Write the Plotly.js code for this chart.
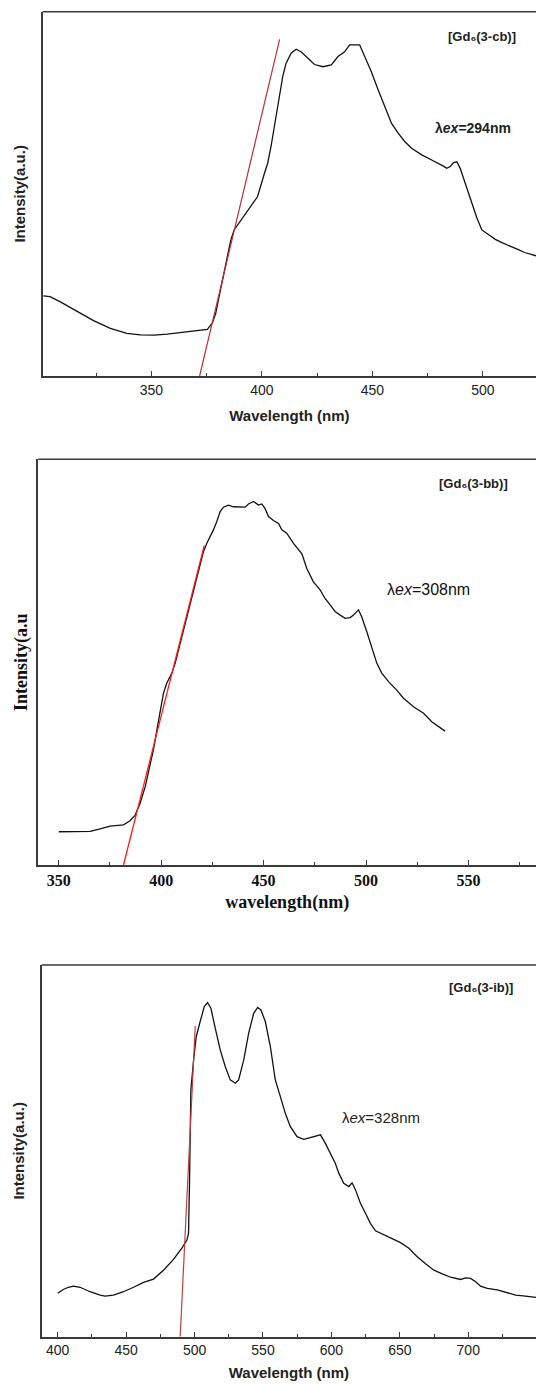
<!DOCTYPE html>
<html>
<head>
<meta charset="utf-8">
<script src="https://cdn.plot.ly/plotly-3.0.1.min.js"></script>
<style>html,body{margin:0;padding:0;background:#fff;}#chart{width:536px;height:1384px;}</style>
</head>
<body>
<div id="chart"></div>
<script>
// ---- Panel 1: [Gd6(3-cb)], λex=294nm ----
const wl1 = [301.1,304.1,308.6,316.2,323.8,331.4,338.9,345.0,351.1,357.1,364.7,372.3,375.3,377.6,379.1,380.6,382.9,385.9,387.4,390.5,395.0,398.0,401.1,402.6,404.1,405.6,407.9,409.4,410.9,413.2,415.5,417.7,420.8,423.8,427.6,431.4,434.4,437.4,439.7,442.0,444.2,446.5,449.5,452.6,455.6,458.6,461.7,464.7,467.7,472.3,476.8,479.8,482.1,483.6,485.2,486.7,488.2,489.7,492.0,495.0,497.3,499.5,502.6,505.6,508.6,511.7,515.5,518.9,524.0];
const int1 = [22.0,21.8,20.4,17.7,15.2,13.1,11.7,11.3,11.2,11.5,12.0,12.4,12.8,14.6,17.2,21.8,28.2,37.3,40.1,42.8,46.5,49.2,55.6,58.4,63.0,68.4,75.8,82.2,85.8,88.6,89.7,89.0,87.2,85.5,84.9,85.4,87.7,89.0,90.9,91.0,90.9,87.7,83.5,78.5,73.9,69.4,66.6,64.3,62.5,60.7,59.3,58.4,57.6,57.0,57.5,58.6,58.8,57.0,52.9,47.4,43.3,40.1,38.7,37.5,36.6,35.7,34.8,33.9,33.0];
const fitX1 = [371.8, 408.0];
const fitY1 = [0, 92.4];

// ---- Panel 2: [Gd6(3-bb)], λex=308nm ----
const wl2 = [350.0,357.2,365.3,370.2,375.1,381.6,384.8,387.3,389.7,392.2,394.6,396.2,397.9,399.5,401.1,402.7,405.2,406.8,409.2,411.7,414.1,416.6,419.0,420.6,422.3,423.9,425.5,427.1,428.8,430.4,432.8,435.3,438.5,441.0,442.6,445.1,447.5,449.1,450.7,452.4,454.8,457.3,458.9,461.3,464.6,467.0,468.7,471.1,474.3,477.6,480.0,482.5,484.9,487.4,489.8,492.3,493.9,496.3,497.9,500.4,502.8,505.3,507.7,511.0,515.0,518.3,523.2,528.1,532.1,535.4,538.6];
const int2 = [8.2,8.2,8.3,8.9,9.6,9.9,10.9,12.3,15.2,19.3,24.7,28.4,33.3,38.2,42.3,44.8,47.3,49.7,54.6,59.6,64.5,69.4,74.4,77.2,79.3,80.9,82.6,84.6,87.1,88.2,88.7,88.3,88.3,88.2,89.0,89.6,88.7,89.0,87.9,85.9,84.9,84.2,82.6,81.8,79.3,77.7,76.7,73.1,69.8,67.8,65.7,64.1,62.5,61.6,60.8,61.0,61.6,62.9,61.2,57.5,53.8,49.7,47.3,45.2,43.1,41.1,39.0,37.4,35.3,34.1,33.0];
const fitX2 = [381.6, 421.0];
const fitY2 = [0, 78.7];

// ---- Panel 3: [Gd6(3-ib)], λex=328nm ----
const wl3 = [400.0,404.1,407.8,411.5,416.3,423.7,431.0,434.6,440.7,448.0,455.4,462.7,470.0,477.3,484.6,490.7,494.4,495.6,496.3,497.3,499.3,501.2,504.1,507.1,509.5,512.0,515.1,518.8,522.4,526.1,529.8,532.2,535.9,539.5,543.2,546.1,548.5,551.7,555.4,559.0,562.7,566.3,570.0,574.9,579.8,584.6,588.3,592.0,595.6,599.3,602.9,605.4,609.0,612.7,615.1,617.6,621.2,624.9,628.5,632.2,638.3,644.4,650.5,656.6,662.7,668.8,674.9,681.0,687.1,694.4,698.0,701.7,705.4,709.0,713.9,721.2,728.5,734.6,740.2,749.5];
const int3 = [11.7,12.7,13.3,13.6,13.3,12.1,11.2,10.9,11.2,12.1,13.3,14.6,15.5,17.9,20.8,23.8,26.0,27.8,41.3,66.4,74.4,80.7,84.8,88.8,89.9,88.3,83.0,77.1,72.7,69.1,68.2,69.1,74.4,81.6,87.0,88.6,87.9,84.8,78.0,69.1,64.6,60.1,56.5,53.8,53.1,53.6,54.0,54.3,52.0,49.3,46.6,44.0,41.3,40.4,41.4,39.5,35.9,33.2,30.5,28.5,27.4,26.5,25.3,23.8,21.5,19.6,17.9,16.9,16.0,15.4,15.8,15.7,14.8,13.6,13.0,12.6,11.8,11.2,11.0,10.6];
const fitX3 = [489.5, 500.5];
const fitY3 = [0, 83.6];

const xTick1 = [350, 400, 450, 500];
const xTick2 = [350, 400, 450, 500, 550];
const xTick3 = [400, 450, 500, 550, 600, 650, 700];

const frame = '#3a3a3a';
const sans = 'Liberation Sans, Arial, sans-serif';
const serif = 'Liberation Serif, Times New Roman, serif';

function xax(range, ticks, anchor, font, tfont, title, standoff) {
  return {
    range: range, anchor: anchor,
    tickvals: ticks, ticktext: ticks.map(String),
    ticks: 'inside', ticklen: 5, tickwidth: 1, tickcolor: frame,
    minor: {dtick: 25, tick0: 0, ticks: 'inside', ticklen: 3, tickcolor: frame},
    showline: true, linecolor: frame, linewidth: 1.5, mirror: false,
    showgrid: false, zeroline: false,
    tickfont: font,
    title: {text: title, font: tfont, standoff: standoff},
    automargin: false
  };
}
function yax(domain, anchor, tfont, title, standoff) {
  return {
    domain: domain, range: [0, 100], anchor: anchor,
    showticklabels: false, ticks: '', showgrid: false, zeroline: false,
    showline: true, linecolor: frame, linewidth: 1.5, mirror: false,
    title: {text: title, font: tfont, standoff: standoff},
    automargin: false
  };
}

const traces = [
  {x: wl1, y: int1, xaxis: 'x', yaxis: 'y', mode: 'lines', line: {color: '#111', width: 1.3}, name: '[Gd6(3-cb)]'},
  {x: fitX1, y: fitY1, xaxis: 'x', yaxis: 'y', mode: 'lines', line: {color: '#b83232', width: 1.2}, name: 'fit 1'},
  {x: wl2, y: int2, xaxis: 'x2', yaxis: 'y2', mode: 'lines', line: {color: '#111', width: 1.3}, name: '[Gd6(3-bb)]'},
  {x: fitX2, y: fitY2, xaxis: 'x2', yaxis: 'y2', mode: 'lines', line: {color: '#ff1a1a', width: 1.3}, name: 'fit 2'},
  {x: wl3, y: int3, xaxis: 'x3', yaxis: 'y3', mode: 'lines', line: {color: '#111', width: 1.3}, name: '[Gd6(3-ib)]'},
  {x: fitX3, y: fitY3, xaxis: 'x3', yaxis: 'y3', mode: 'lines', line: {color: '#c04040', width: 1.2}, name: 'fit 3'}
];

const fTick = {family: sans, size: 14, color: '#222'};
const fTitle = {family: sans, size: 15, color: '#222', weight: 'bold'};
const fTick2 = {family: serif, size: 16, color: '#111', weight: 'bold'};
const fTitle2 = {family: serif, size: 18, color: '#111', weight: 'bold'};
const fLabel = {family: sans, size: 13, color: '#222', weight: 'bold'};

const H = 1384, W = 536;
const layout = {
  width: W, height: H,
  margin: {l: 0, r: 0, t: 0, b: 0},
  paper_bgcolor: '#fff', plot_bgcolor: '#fff',
  showlegend: false,
  xaxis: Object.assign(xax([300.8, 524], xTick1, 'y', fTick, fTitle, 'Wavelength (nm)', 14), {domain: [42.7/W, 1]}),
  yaxis: yax([1-376/H, 1-11.7/H], 'x', fTitle, 'Intensity(a.u.)', 12),
  xaxis2: Object.assign(xax([340, 583], xTick2, 'y2', fTick2, fTitle2, 'wavelength(nm)', 7), {domain: [38.3/W, 1]}),
  yaxis2: yax([1-865/H, 1-459.3/H], 'x2', fTitle2, 'Intensity(a.u', 4),
  xaxis3: Object.assign(xax([388.3, 749.5], xTick3, 'y3', fTick, fTitle, 'Wavelength (nm)', 10), {domain: [41.7/W, 1]}),
  yaxis3: yax([1-1336.7/H, 1-965/H], 'x3', fTitle, 'Intensity(a.u.)', 12),
  shapes: [
    {type: 'line', xref: 'x domain', yref: 'y domain', x0: 0, x1: 1, y0: 1, y1: 1, line: {color: frame, width: 1.5}},
    {type: 'line', xref: 'x2 domain', yref: 'y2 domain', x0: 0, x1: 1, y0: 1, y1: 1, line: {color: frame, width: 1.5}},
    {type: 'line', xref: 'x3 domain', yref: 'y3 domain', x0: 0, x1: 1, y0: 1, y1: 1, line: {color: frame, width: 1.5}}
  ],
  annotations: [
    {xref: 'paper', yref: 'paper', x: 518/W, y: 1-37/H, xanchor: 'right', yanchor: 'middle', showarrow: false,
     text: '[Gd\u2086(3-cb)]', font: fLabel},
    {xref: 'paper', yref: 'paper', x: 433/W, y: 1-128/H, xanchor: 'left', yanchor: 'middle', showarrow: false,
     text: 'λ<i>ex</i>=294nm', font: {family: sans, size: 14, color: '#222', weight: 'bold'}},
    {xref: 'paper', yref: 'paper', x: 510/W, y: 1-483/H, xanchor: 'right', yanchor: 'middle', showarrow: false,
     text: '[Gd\u2086(3-bb)]', font: fLabel},
    {xref: 'paper', yref: 'paper', x: 385/W, y: 1-590/H, xanchor: 'left', yanchor: 'middle', showarrow: false,
     text: 'λ<i>ex</i>=308nm', font: {family: sans, size: 16, color: '#111'}},
    {xref: 'paper', yref: 'paper', x: 515/W, y: 1-988/H, xanchor: 'right', yanchor: 'middle', showarrow: false,
     text: '[Gd\u2086(3-ib)]', font: fLabel},
    {xref: 'paper', yref: 'paper', x: 340/W, y: 1-1117/H, xanchor: 'left', yanchor: 'middle', showarrow: false,
     text: 'λ<i>ex</i>=328nm', font: {family: sans, size: 15, color: '#222'}}
  ]
};

Plotly.newPlot('chart', traces, layout, {displayModeBar: false});
</script>
</body>
</html>
